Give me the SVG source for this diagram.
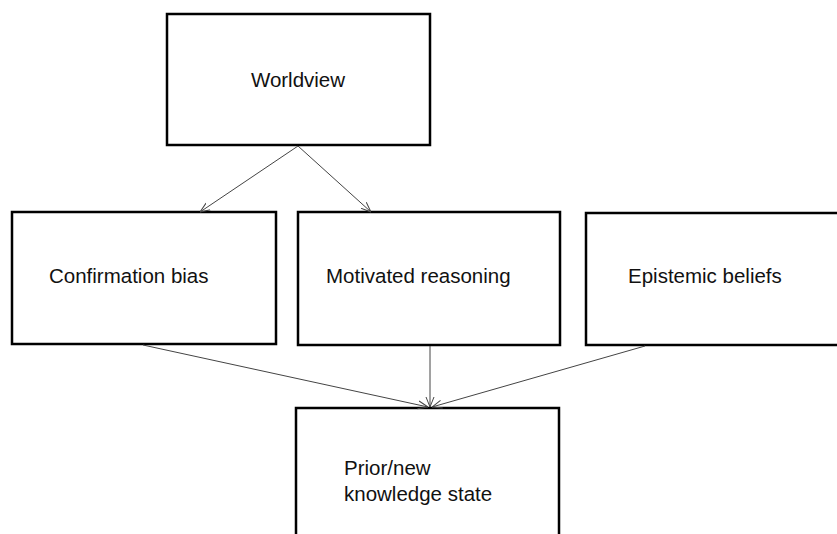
<svg xmlns="http://www.w3.org/2000/svg" width="837" height="534" viewBox="0 0 837 534">
<style>
.box{fill:#fff;stroke:#000;stroke-width:2.5}
.lbl{font-family:"Liberation Sans",Arial,sans-serif;font-size:20.5px;fill:#111}
.conn{stroke:#444;stroke-width:1;fill:none;marker-end:url(#arr)}
</style>
<defs>
<marker id="arr" viewBox="0 0 10 10" refX="10" refY="5" markerWidth="10" markerHeight="10" markerUnits="userSpaceOnUse" orient="auto">
<path d="M0,1 L10,5 L0,9" fill="none" stroke="#444" stroke-width="1"/>
</marker>
</defs>
<rect width="837" height="534" fill="#fff"/>
<g id="worldview"><rect class="box" x="167" y="14" width="263" height="131"/><text class="lbl" x="298" y="87" text-anchor="middle">Worldview</text></g>
<g id="confirmation-bias"><rect class="box" x="12" y="212" width="264" height="132"/><text class="lbl" x="49" y="283">Confirmation bias</text></g>
<g id="motivated-reasoning"><rect class="box" x="298" y="212" width="262" height="133"/><text class="lbl" x="326" y="283">Motivated reasoning</text></g>
<g id="epistemic-beliefs"><rect class="box" x="586" y="213" width="253" height="132"/><text class="lbl" x="628" y="283">Epistemic beliefs</text></g>
<g id="knowledge-state"><rect class="box" x="296" y="408" width="263" height="140"/><text class="lbl" x="344" y="475">Prior/new</text><text class="lbl" x="344" y="501">knowledge state</text></g>
<g id="connectors">
<line class="conn" x1="298" y1="146" x2="200" y2="212"/>
<line class="conn" x1="298" y1="146" x2="371" y2="212"/>
<line class="conn" x1="143" y1="345" x2="428" y2="407"/>
<line class="conn" x1="430" y1="346" x2="430" y2="407"/>
<line class="conn" x1="645" y1="346" x2="432" y2="407"/>
</g>
</svg>
